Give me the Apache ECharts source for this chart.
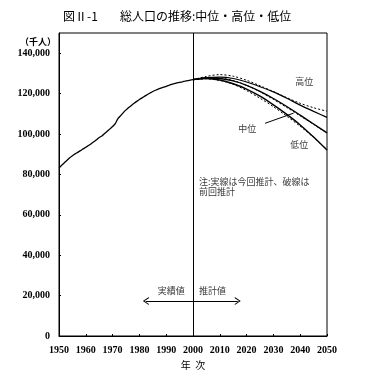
<!DOCTYPE html>
<html><head><meta charset="utf-8">
<script src="https://cdn.jsdelivr.net/npm/echarts@6/dist/echarts.min.js"></script>
<style>html,body{margin:0;padding:0;background:#fff}#c{width:367px;height:377px}</style>
</head><body><div id="c"></div>
<script>
var histYears = [1950,1951,1952,1953,1954,1955,1956,1957,1958,1959,1960,1961,1962,1963,1964,1965,1966,1967,1968,1969,1970,1971,1972,1973,1974,1975,1976,1977,1978,1979,1980,1981,1982,1983,1984,1985,1986,1987,1988,1989,1990,1991,1992,1993,1994,1995,1996,1997,1998,1999,2000];
var histPop = [83200,84541,85808,86981,88239,89276,90172,90928,91767,92641,93419,94287,95181,96156,97186,98275,99036,100196,101331,102536,103720,105145,107595,109104,110573,111940,113094,114165,115190,116155,117060,117902,118728,119536,120305,121049,121660,122239,122745,123205,123611,124101,124567,124938,125265,125570,125859,126157,126472,126667,126926];
var projYears = [2000,2005,2010,2015,2020,2025,2030,2035,2040,2045,2050];
var highNew = [126926,127907,128141,127480,125720,123400,120838,117700,114300,111200,108249];
var mediumNew = [126926,127708,127473,126266,124107,121136,117580,113602,109338,104960,100593];
var lowNew = [126926,127477,126711,124884,122269,118700,114400,109700,104500,98500,92032];
var highPrev = [126926,128500,129400,128600,126600,123900,121000,118000,115200,113000,111300];
var mediumPrev = [126892,127684,127623,126444,124133,120913,117149,113114,108964,104758,100496];
var lowPrev = [126800,127300,126500,124600,121500,117700,113500,108800,103800,98300,92300];
var yTicks = [0,20000,40000,60000,80000,100000,120000,140000];
var xTicks = [1950,1960,1970,1980,1990,2000,2010,2020,2030,2040,2050];

function zip(xs, ys){ return xs.map(function(x,i){ return [x, ys[i]]; }); }
var cjk = '"Noto Sans CJK JP", sans-serif';
var serif = '"Liberation Serif", "DejaVu Serif", serif';

function solid(name, ys, w){
  return {name:name, type:'line', data:zip(projYears, ys), symbol:'none', smooth:0.3,
    lineStyle:{color:'#000', width:w}, silent:true, z:3};
}
function dashed(name, ys){
  return {name:name, type:'line', data:zip(projYears, ys), symbol:'none', smooth:0.3,
    lineStyle:{color:'#000', width:1, type:[2,2]}, silent:true, z:4};
}
var chev = 'path://M0,10 L5,0 L10,10 L8.6,10 L5,2.8 L1.4,10 Z';

var chart = echarts.init(document.getElementById('c'), null, {renderer:'canvas'});
chart.setOption({
  backgroundColor:'#fff',
  animation:false,
  title:[
    {text:'図Ⅱ-1', left:58, top:5, textStyle:{fontFamily:cjk, fontSize:12, fontWeight:'normal', color:'#000'}},
    {text:'総人口の推移:中位・高位・低位', left:115, top:5, textStyle:{fontFamily:cjk, fontSize:12, fontWeight:'normal', color:'#000'}},
    {text:'（千人）', left:15, top:32, textStyle:{fontFamily:cjk, fontSize:9, fontWeight:'bold', color:'#000'}}
  ],
  grid:{left:59, right:40, top:33, bottom:41, show:true, borderColor:'#000', borderWidth:1, backgroundColor:'transparent'},
  xAxis:{type:'value', min:xTicks[0], max:xTicks[xTicks.length-1], interval:10,
    name:'年  次', nameLocation:'middle', nameGap:19,
    nameTextStyle:{fontFamily:cjk, fontSize:10, color:'#000'},
    axisLine:{lineStyle:{color:'#000', width:1}},
    axisTick:{inside:true, length:2, lineStyle:{color:'#000'}},
    axisLabel:{margin:9, fontFamily:serif, fontSize:10, fontWeight:'bold', color:'#000', formatter:function(v){return String(v);}},
    splitLine:{show:false}},
  yAxis:{type:'value', min:yTicks[0], max:150000, interval:20000,
    axisLine:{show:true, lineStyle:{color:'#000', width:1}},
    axisTick:{inside:true, length:2, lineStyle:{color:'#000'}},
    axisLabel:{margin:9, showMaxLabel:false, fontFamily:serif, fontSize:10, fontWeight:'bold', color:'#000',
      formatter:function(v){ return v === 150000 ? '' : v.toLocaleString('en-US'); }},
    splitLine:{show:false}},
  series:[
    {name:'実績値', type:'line', data:zip(histYears, histPop), symbol:'none', smooth:0.2,
     lineStyle:{color:'#000', width:1.3}, silent:true, z:3,
     markLine:{silent:true, symbol:'none', label:{show:false}, animation:false,
       lineStyle:{color:'#000', width:1, type:'solid'},
       data:[{xAxis:2000}]}},
    solid('高位', highNew, 1.2),
    solid('中位', mediumNew, 1.4),
    solid('低位', lowNew, 1.4),
    dashed('高位(前回)', highPrev),
    dashed('中位(前回)', mediumPrev),
    dashed('低位(前回)', lowPrev),
    {name:'注記', type:'scatter', symbolSize:0, itemStyle:{color:'transparent'}, silent:true, z:5,
     label:{show:true, position:'inside', formatter:'{b}', fontFamily:cjk, fontSize:9, color:'#000'},
     data:[
       {name:'高位', value:[2041.5,125900]},
       {name:'中位', value:[2020.2,102800]},
       {name:'低位', value:[2039.6,94550]},
       {name:'実績値', value:[1991.9,22400]},
       {name:'推計値', value:[2007.3,22400]},
       {name:'注:実線は今回推計、破線は\n前回推計', value:[2002.2,73900],
        label:{position:'right', distance:0, align:'left', lineHeight:10.5}}
     ],
     markLine:{silent:true, label:{show:false}, animation:false,
       lineStyle:{color:'#000', width:1, type:'solid'},
       data:[
         [{coord:[1982.4,17300], symbol:chev, symbolSize:[8,6]}, {coord:[2016.7,17300], symbol:chev, symbolSize:[8,6]}],
         [{coord:[2026.9,105300], symbol:'none'}, {coord:[2037.5,110300], symbol:'none'}]
       ]}}
  ]
});
</script></body></html>
